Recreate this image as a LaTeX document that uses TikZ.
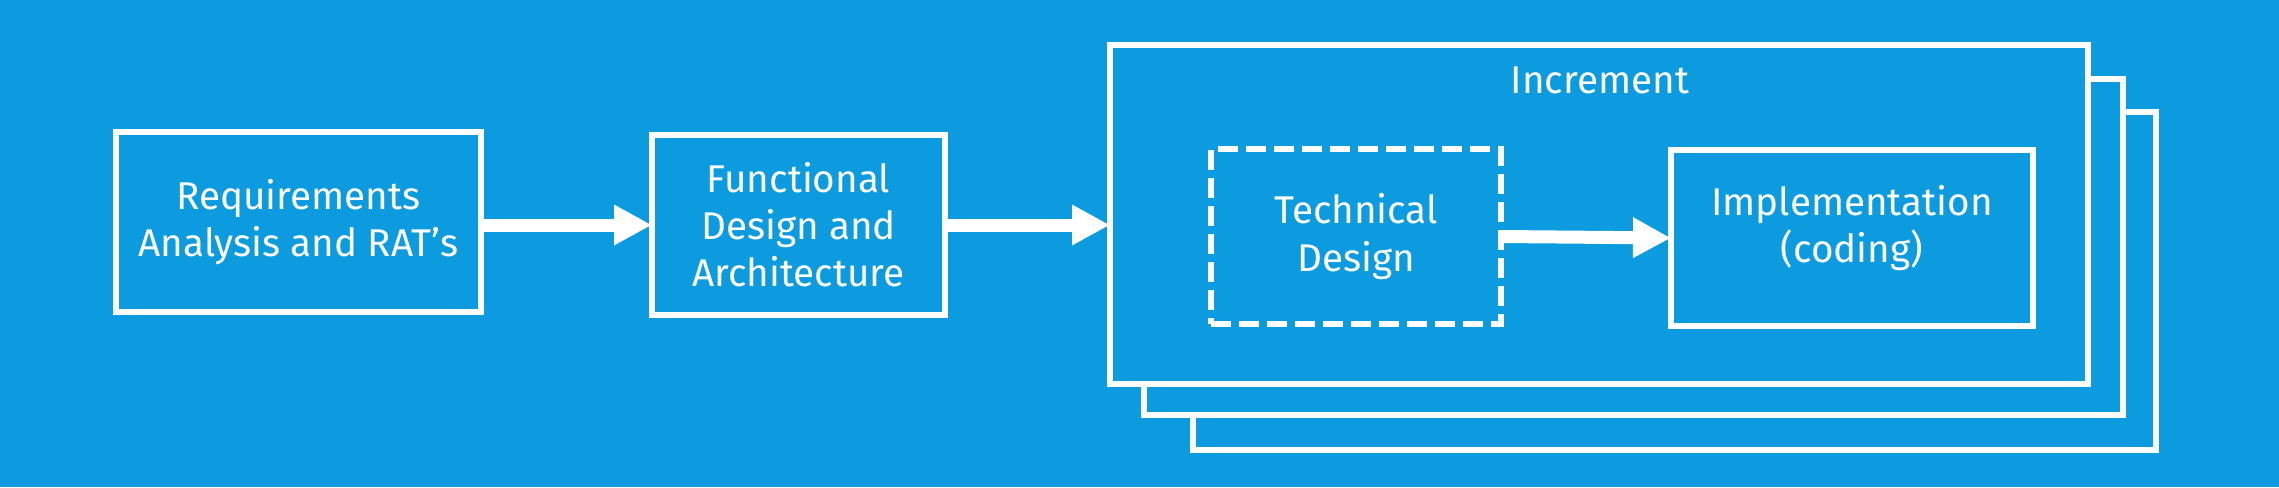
\documentclass[tikz,border=0pt]{standalone}
\usepackage{fontspec}
\setmainfont{Fira Sans}
\usetikzlibrary{arrows.meta}
\definecolor{bgblue}{RGB}{11,155,222}
\tikzset{
  box/.style={draw=white, line width=0.6mm, fill=bgblue, inner sep=0pt, outer sep=0pt,
    text=white, align=center, font=\fontsize{11}{13.4}\selectfont},
  dashbox/.style={box, dash pattern=on 2mm off 0.8mm},
  bigarrow/.style={draw=white, line width=1.3mm, -{Triangle[length=3.8mm,width=3.8mm]}},
}

\begin{document}
\begin{tikzpicture}[x=0.1mm, y=-0.1mm]

    % Background
    \fill[bgblue] (0,0) rectangle (2279,487);
    \useasboundingbox (0,0) rectangle (2279,487);

    % Stacked increments, back to front
    \node[box, minimum width=96.3mm, minimum height=33.8mm] (inc3) at (1674.5,281) {};
    \node[box, minimum width=97.9mm, minimum height=33.6mm] (inc2) at (1633.5,247) {};
    \node[box, minimum width=97.8mm, minimum height=33.9mm] (inc1) at (1599,214.5) {};
    \node[text=white, font=\fontsize{11}{13.4}\selectfont] (inclbl) at (1600,80) {Increment};

    % Phases
    \node[box, minimum width=36.5mm, minimum height=18mm] (req) at (298.5,222)
        {Requirements\\Analysis and RAT’s};
    \node[box, minimum width=29.3mm, minimum height=18mm] (func) at (798.5,225)
        {Functional\\Design and\\Architecture};

    % Inside the increment
    \node[dashbox, minimum width=29mm, minimum height=17.5mm] (tech) at (1356,236.5)
        {Technical\\Design};
    \node[box, minimum width=36.2mm, minimum height=17.6mm, text depth=2.8mm] (impl) at (1852,238)
        {Implementation\\(coding)};

    % Arrows
    \draw[bigarrow] ([yshift=-0.3mm]req.east) -- ([yshift=-0.3mm]req.east -| func.west);
    \draw[bigarrow] (func.east) -- (func.east -| inc1.west);
    \draw[bigarrow] (tech.east) -- (impl.west);

\end{tikzpicture}
\end{document}
